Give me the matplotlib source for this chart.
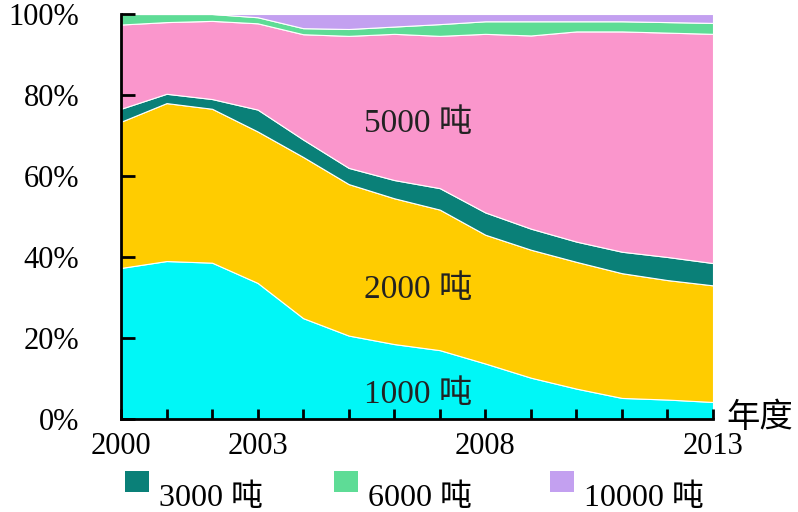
import matplotlib
matplotlib.use("Agg")
import matplotlib.pyplot as plt
import numpy as np

years = np.arange(2000, 2014)
# share (%) of each tonnage class per year
t1000 = [37.3, 39.0, 38.6, 33.6, 24.9, 20.6, 18.5, 17.0, 13.7, 10.2, 7.5, 5.2, 4.8, 4.2]
t2000 = [36.1, 39.0, 38.0, 37.4, 39.8, 37.4, 36.0, 34.7, 31.8, 31.6, 31.3, 30.8, 29.5, 28.8]
t3000 = [3.2, 2.3, 2.4, 5.4, 4.3, 4.0, 4.5, 5.3, 5.5, 5.2, 5.0, 5.3, 5.7, 5.5]
t5000 = [20.8, 17.7, 19.3, 21.3, 26.0, 32.6, 36.1, 37.6, 44.1, 47.7, 51.9, 54.4, 55.4, 56.6]
t6000 = [2.6, 2.0, 1.7, 1.5, 1.5, 1.7, 1.8, 2.9, 3.1, 3.5, 2.5, 2.5, 2.6, 2.7]
t10000 = [0.0, 0.0, 0.0, 0.8, 3.5, 3.7, 3.1, 2.5, 1.8, 1.8, 1.8, 1.8, 2.0, 2.2]

labelled_years = [2000, 2003, 2008, 2013]
colors = ["#00f7f7", "#ffcc00", "#0a8078", "#fa96cc", "#5edc96", "#c3a0f0"]

serif = ["Liberation Serif", "Noto Sans CJK SC"]
cjk = ["Noto Sans CJK SC", "DejaVu Sans"]

fig = plt.figure(figsize=(7.98, 5.12), dpi=100)
ax = fig.add_axes([121 / 798, 1 - 419 / 512, 592 / 798, 405 / 512])

ax.stackplot(years, t1000, t2000, t3000, t5000, t6000, t10000,
             colors=colors, edgecolor="white", linewidth=0.8)

ax.set_xlim(2000, 2013)
ax.set_ylim(0, 100)

for s in ["top", "right"]:
    ax.spines[s].set_visible(False)
ax.spines["left"].set_linewidth(2)
ax.spines["bottom"].set_linewidth(2)

ax.set_yticks(np.arange(0, 101, 20))
ax.set_yticklabels([f"{v}%" for v in range(0, 101, 20)], fontfamily=serif, fontsize=22)
ax.tick_params(axis="y", direction="in", length=10, width=2, pad=30)

ax.set_xticks(years)
ax.set_xticklabels([str(y) if y in labelled_years else "" for y in years],
                   fontfamily=serif, fontsize=22)
ax.tick_params(axis="x", direction="in", length=7, width=2, pad=9)

ax.text(2006.52, 73, "5000 吨", fontfamily=serif, fontsize=24, ha="center", va="center", color="#222222")
ax.text(2006.52, 32, "2000 吨", fontfamily=serif, fontsize=24, ha="center", va="center", color="#222222")
ax.text(2006.52, 6, "1000 吨", fontfamily=serif, fontsize=24, ha="center", va="center", color="#222222")

fig.text(726 / 798, 1 - 418 / 512, "年度", fontfamily=cjk, fontsize=24, ha="left", va="center")

# legend for the thin layers
legend_items = [("3000 吨", colors[2], 125), ("6000 吨", colors[4], 334), ("10000 吨", colors[5], 550)]
for text, col, x0 in legend_items:
    fig.patches.append(plt.Rectangle((x0 / 798, 1 - 492 / 512), 24 / 798, 21 / 512,
                                     transform=fig.transFigure, facecolor=col, edgecolor="none"))
    fig.text((x0 + 34) / 798, 1 - 498 / 512, text, fontfamily=serif, fontsize=23,
             ha="left", va="center")

fig.savefig("out.png", dpi=100)
